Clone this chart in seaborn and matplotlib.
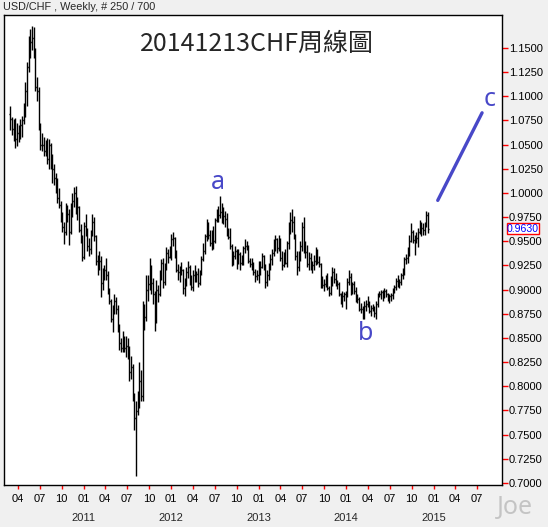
"""USD/CHF weekly bar chart with a-b-c wave marks."""

import matplotlib
matplotlib.use("Agg")

import matplotlib.dates as mdates
import matplotlib.pyplot as plt
import numpy as np
import pandas as pd
import seaborn as sns
from matplotlib.ticker import FormatStrFormatter

# weekly bars, one per week starting 2010-03-01 (250 bars, last = week of 2014-12-08)
week_start = "2010-03-01"

opens = [
    # 2010
    1.0820, 1.0770, 1.0660, 1.0700, 1.0560, 1.0620, 1.0650, 1.0700, 1.0750,
    1.0800, 1.1050, 1.1300, 1.1450, 1.1560, 1.1600, 1.1470, 1.1100, 1.1050,
    1.0700, 1.0500, 1.0500, 1.0430, 1.0420, 1.0350, 1.0500, 1.0300, 1.0250,
    1.0150, 1.0120, 0.9950, 0.9880, 0.9780, 0.9650, 0.9600, 0.9800,
    0.9780, 0.9600, 0.9850, 0.9920, 1.0000, 0.9820, 0.9850, 0.9620, 0.9550,
    # 2011
    0.9340, 0.9660, 0.9600, 0.9450, 0.9420, 0.9580, 0.9700, 0.9550, 0.9300,
    0.9250, 0.9300, 0.9070, 0.9150, 0.9200, 0.9150, 0.8990, 0.8880,
    0.8700, 0.8800, 0.8880, 0.8800, 0.8600, 0.8450, 0.8400, 0.8500, 0.8400,
    0.8420, 0.8400, 0.8150, 0.8200, 0.7870, 0.7670, 0.7740, 0.7880, 0.8050,
    0.7900, 0.8610, 0.8720, 0.9000, 0.9060, 0.9230, 0.9070, 0.8950, 0.8700,
    0.9000, 0.8950, 0.9150, 0.9280, 0.9080, 0.9220, 0.9380, 0.9340,
    # 2012
    0.9390, 0.9520, 0.9530, 0.9370, 0.9200, 0.9180, 0.9170, 0.9200, 0.9020,
    0.9080, 0.9180, 0.9230, 0.9120, 0.9030, 0.9150, 0.9130, 0.9160, 0.9070,
    0.9180, 0.9320, 0.9400, 0.9550, 0.9690, 0.9560, 0.9480, 0.9590,
    0.9500, 0.9720, 0.9780, 0.9770, 0.9800, 0.9720, 0.9760, 0.9730, 0.9600,
    0.9540, 0.9450, 0.9280, 0.9350, 0.9400, 0.9300, 0.9370, 0.9280, 0.9330,
    0.9430, 0.9450, 0.9440, 0.9300, 0.9260, 0.9250, 0.9180, 0.9140, 0.9150,
    # 2013
    0.9260, 0.9230, 0.9350, 0.9250, 0.9080, 0.9150, 0.9220, 0.9320,
    0.9380, 0.9500, 0.9520, 0.9430, 0.9490, 0.9330, 0.9250, 0.9370, 0.9280,
    0.9480, 0.9650, 0.9720, 0.9700, 0.9550, 0.9350, 0.9230, 0.9350,
    0.9450, 0.9650, 0.9440, 0.9390, 0.9270, 0.9330, 0.9240, 0.9250, 0.9300,
    0.9330, 0.9290, 0.9260, 0.9070, 0.9050, 0.9060, 0.9100, 0.9020, 0.8960,
    0.9120, 0.9180, 0.9110, 0.9070, 0.9060, 0.8950, 0.8910, 0.8930, 0.8950,
    # 2014
    0.8950, 0.9080, 0.9130, 0.8990, 0.9060, 0.8990, 0.8900, 0.8900,
    0.8800, 0.8800, 0.8720, 0.8830, 0.8850, 0.8860, 0.8780, 0.8810, 0.8800,
    0.8760, 0.8850, 0.8940, 0.8950, 0.8980, 0.8940, 0.8990, 0.8950, 0.8900,
    0.8930, 0.8940, 0.8990, 0.9030, 0.9090, 0.9060, 0.9080, 0.9150,
    0.9170, 0.9320, 0.9330, 0.9360, 0.9500, 0.9600, 0.9510, 0.9520, 0.9530,
    0.9600, 0.9660, 0.9640, 0.9620, 0.9670, 0.9770,
]

highs = [
    # 2010
    1.0900, 1.0790, 1.0760, 1.0780, 1.0720, 1.0700, 1.0760, 1.0800, 1.0930,
    1.1150, 1.1350, 1.1620, 1.1700, 1.1731, 1.1720, 1.1500, 1.1200, 1.1100,
    1.0720, 1.0620, 1.0580, 1.0550, 1.0570, 1.0560, 1.0520, 1.0400, 1.0300,
    1.0210, 1.0150, 1.0050, 0.9920, 0.9800, 0.9700, 0.9900, 0.9880,
    0.9830, 0.9900, 1.0000, 1.0060, 1.0070, 0.9960, 0.9870, 0.9680, 0.9570,
    # 2011
    0.9700, 0.9780, 0.9640, 0.9530, 0.9620, 0.9780, 0.9750, 0.9560, 0.9360,
    0.9400, 0.9350, 0.9220, 0.9250, 0.9330, 0.9190, 0.9020, 0.8900,
    0.8840, 0.8950, 0.8920, 0.8840, 0.8640, 0.8500, 0.8570, 0.8520, 0.8520,
    0.8500, 0.8420, 0.8310, 0.8230, 0.7930, 0.7850, 0.7950, 0.8250, 0.8170,
    0.8880, 0.8850, 0.9150, 0.9150, 0.9330, 0.9250, 0.9120, 0.8990, 0.9100,
    0.9050, 0.9200, 0.9320, 0.9330, 0.9280, 0.9440, 0.9420, 0.9450,
    # 2012
    0.9580, 0.9600, 0.9540, 0.9410, 0.9260, 0.9240, 0.9290, 0.9210, 0.9120,
    0.9230, 0.9300, 0.9250, 0.9150, 0.9200, 0.9250, 0.9190, 0.9220, 0.9200,
    0.9350, 0.9480, 0.9580, 0.9728, 0.9700, 0.9620, 0.9620, 0.9660,
    0.9740, 0.9830, 0.9870, 0.9972, 0.9900, 0.9850, 0.9810, 0.9790, 0.9640,
    0.9640, 0.9470, 0.9400, 0.9450, 0.9420, 0.9420, 0.9390, 0.9360, 0.9450,
    0.9520, 0.9500, 0.9460, 0.9330, 0.9330, 0.9290, 0.9210, 0.9200, 0.9300,
    # 2013
    0.9300, 0.9380, 0.9360, 0.9260, 0.9200, 0.9280, 0.9370, 0.9420,
    0.9520, 0.9560, 0.9530, 0.9560, 0.9530, 0.9400, 0.9390, 0.9420, 0.9500,
    0.9700, 0.9800, 0.9839, 0.9760, 0.9580, 0.9400, 0.9400, 0.9500,
    0.9700, 0.9752, 0.9500, 0.9460, 0.9390, 0.9380, 0.9300, 0.9360, 0.9440,
    0.9420, 0.9350, 0.9280, 0.9140, 0.9110, 0.9150, 0.9170, 0.9040, 0.9140,
    0.9230, 0.9220, 0.9170, 0.9100, 0.9080, 0.8970, 0.8990, 0.8980, 0.8990,
    # 2014
    0.9120, 0.9200, 0.9170, 0.9080, 0.9090, 0.9030, 0.8950, 0.8920,
    0.8860, 0.8830, 0.8880, 0.8890, 0.8930, 0.8880, 0.8840, 0.8850, 0.8830,
    0.8880, 0.8960, 0.8990, 0.9000, 0.9000, 0.9020, 0.9010, 0.8970, 0.8950,
    0.8970, 0.9020, 0.9050, 0.9120, 0.9150, 0.9110, 0.9170, 0.9220,
    0.9340, 0.9370, 0.9440, 0.9560, 0.9690, 0.9620, 0.9560, 0.9600, 0.9640,
    0.9720, 0.9700, 0.9690, 0.9700, 0.9810, 0.9800,
]

lows = [
    # 2010
    1.0650, 1.0600, 1.0540, 1.0470, 1.0490, 1.0530, 1.0560, 1.0580, 1.0710,
    1.0790, 1.0900, 1.1250, 1.1400, 1.1480, 1.1400, 1.1050, 1.0950, 1.0650,
    1.0440, 1.0430, 1.0380, 1.0380, 1.0300, 1.0250, 1.0250, 1.0100, 1.0080,
    1.0000, 0.9900, 0.9840, 0.9700, 0.9600, 0.9470, 0.9560, 0.9700,
    0.9460, 0.9580, 0.9750, 0.9850, 0.9780, 0.9720, 0.9600, 0.9480, 0.9300,
    # 2011
    0.9320, 0.9550, 0.9400, 0.9350, 0.9370, 0.9550, 0.9500, 0.9250, 0.9150,
    0.9200, 0.8920, 0.9000, 0.9100, 0.9100, 0.8950, 0.8850, 0.8660,
    0.8560, 0.8750, 0.8750, 0.8560, 0.8380, 0.8350, 0.8350, 0.8350, 0.8300,
    0.8280, 0.8050, 0.8080, 0.7850, 0.7550, 0.7067, 0.7700, 0.7780, 0.7850,
    0.7850, 0.8580, 0.8680, 0.8880, 0.9000, 0.8950, 0.8850, 0.8570, 0.8650,
    0.8870, 0.8930, 0.9100, 0.9020, 0.9050, 0.9200, 0.9280, 0.9330,
    # 2012
    0.9310, 0.9450, 0.9330, 0.9180, 0.9100, 0.9080, 0.9150, 0.8950, 0.8930,
    0.9040, 0.9120, 0.9050, 0.9000, 0.8990, 0.9080, 0.9080, 0.9030, 0.9050,
    0.9150, 0.9300, 0.9370, 0.9500, 0.9520, 0.9450, 0.9410, 0.9420,
    0.9480, 0.9700, 0.9700, 0.9740, 0.9690, 0.9680, 0.9650, 0.9550, 0.9520,
    0.9420, 0.9240, 0.9250, 0.9320, 0.9210, 0.9260, 0.9200, 0.9250, 0.9250,
    0.9380, 0.9410, 0.9280, 0.9230, 0.9200, 0.9150, 0.9080, 0.9100, 0.9070,
    # 2013
    0.9150, 0.9220, 0.9200, 0.9020, 0.9040, 0.9100, 0.9200, 0.9250,
    0.9350, 0.9400, 0.9380, 0.9400, 0.9300, 0.9200, 0.9230, 0.9260, 0.9230,
    0.9420, 0.9580, 0.9600, 0.9520, 0.9310, 0.9150, 0.9190, 0.9300,
    0.9400, 0.9380, 0.9330, 0.9230, 0.9200, 0.9200, 0.9170, 0.9200, 0.9250,
    0.9270, 0.9230, 0.9020, 0.9020, 0.8990, 0.9030, 0.9000, 0.8930, 0.8940,
    0.9040, 0.9070, 0.9040, 0.9010, 0.8930, 0.8850, 0.8820, 0.8880, 0.8800,
    # 2014
    0.8920, 0.9050, 0.8940, 0.8950, 0.8950, 0.8870, 0.8860, 0.8780,
    0.8760, 0.8700, 0.8699, 0.8780, 0.8820, 0.8760, 0.8730, 0.8780, 0.8720,
    0.8700, 0.8820, 0.8920, 0.8900, 0.8880, 0.8910, 0.8920, 0.8880, 0.8860,
    0.8880, 0.8900, 0.8960, 0.9000, 0.9030, 0.9020, 0.9050, 0.9110,
    0.9150, 0.9260, 0.9280, 0.9350, 0.9490, 0.9480, 0.9360, 0.9480, 0.9440,
    0.9580, 0.9550, 0.9570, 0.9570, 0.9650, 0.9590,
]

closes = [
    # 2010
    1.0770, 1.0660, 1.0700, 1.0560, 1.0620, 1.0650, 1.0700, 1.0750, 1.0800,
    1.1050, 1.1300, 1.1450, 1.1560, 1.1600, 1.1470, 1.1100, 1.1050, 1.0700,
    1.0500, 1.0500, 1.0430, 1.0420, 1.0350, 1.0500, 1.0300, 1.0250, 1.0150,
    1.0120, 0.9950, 0.9880, 0.9780, 0.9650, 0.9600, 0.9800, 0.9780,
    0.9600, 0.9850, 0.9920, 1.0000, 0.9820, 0.9850, 0.9620, 0.9550, 0.9340,
    # 2011
    0.9660, 0.9600, 0.9450, 0.9420, 0.9580, 0.9700, 0.9550, 0.9300, 0.9250,
    0.9300, 0.9070, 0.9150, 0.9200, 0.9150, 0.8990, 0.8880, 0.8700,
    0.8800, 0.8880, 0.8800, 0.8600, 0.8450, 0.8400, 0.8500, 0.8400, 0.8420,
    0.8400, 0.8150, 0.8200, 0.7870, 0.7670, 0.7740, 0.7880, 0.8050, 0.7900,
    0.8610, 0.8720, 0.9000, 0.9060, 0.9230, 0.9070, 0.8950, 0.8700, 0.9000,
    0.8950, 0.9150, 0.9280, 0.9080, 0.9220, 0.9380, 0.9340, 0.9390,
    # 2012
    0.9520, 0.9530, 0.9370, 0.9200, 0.9180, 0.9170, 0.9200, 0.9020, 0.9080,
    0.9180, 0.9230, 0.9120, 0.9030, 0.9150, 0.9130, 0.9160, 0.9070, 0.9180,
    0.9320, 0.9400, 0.9550, 0.9690, 0.9560, 0.9480, 0.9590, 0.9500,
    0.9720, 0.9780, 0.9770, 0.9800, 0.9720, 0.9760, 0.9730, 0.9600, 0.9540,
    0.9450, 0.9280, 0.9350, 0.9400, 0.9300, 0.9370, 0.9280, 0.9330, 0.9430,
    0.9450, 0.9440, 0.9300, 0.9260, 0.9250, 0.9180, 0.9140, 0.9150, 0.9260,
    # 2013
    0.9230, 0.9350, 0.9250, 0.9080, 0.9150, 0.9220, 0.9320, 0.9380,
    0.9500, 0.9520, 0.9430, 0.9490, 0.9330, 0.9250, 0.9370, 0.9280, 0.9480,
    0.9650, 0.9720, 0.9700, 0.9550, 0.9350, 0.9230, 0.9350, 0.9450,
    0.9650, 0.9440, 0.9390, 0.9270, 0.9330, 0.9240, 0.9250, 0.9300, 0.9330,
    0.9290, 0.9260, 0.9070, 0.9050, 0.9060, 0.9100, 0.9020, 0.8960, 0.9120,
    0.9180, 0.9110, 0.9070, 0.9060, 0.8950, 0.8910, 0.8930, 0.8950, 0.8950,
    # 2014
    0.9080, 0.9130, 0.8990, 0.9060, 0.8990, 0.8900, 0.8900, 0.8800,
    0.8800, 0.8720, 0.8830, 0.8850, 0.8860, 0.8780, 0.8810, 0.8800, 0.8760,
    0.8850, 0.8940, 0.8950, 0.8980, 0.8940, 0.8990, 0.8950, 0.8900, 0.8930,
    0.8940, 0.8990, 0.9030, 0.9090, 0.9060, 0.9080, 0.9150, 0.9170,
    0.9320, 0.9330, 0.9360, 0.9500, 0.9600, 0.9510, 0.9520, 0.9530, 0.9600,
    0.9660, 0.9640, 0.9620, 0.9670, 0.9770, 0.9630,
]

# projected wave c and the a / b / c marks
wave_dates = ["2015-01-18", "2015-07-22"]
wave_values = [0.9923, 1.0829]
mark_labels = ["a", "b", "c"]
mark_dates = ["2012-07-15", "2014-03-21", "2015-08-24"]
mark_values = [1.0043, 0.8483, 1.0901]

title = "20141213CHF周線圖"
header = "USD/CHF , Weekly, # 250 / 700"
month_ticks = pd.date_range("2010-04-01", "2015-07-01", freq="QS-JAN")
year_labels = [2011, 2012, 2013, 2014, 2015]
price_ticks = np.arange(0.70, 1.1501, 0.025)

sns.set_theme(style="white")
plt.rcParams["font.family"] = ["Liberation Sans", "DejaVu Sans"]

wave_color = "#4848c8"
label_size = 8.0
fig = plt.figure(figsize=(5.48, 5.27), dpi=100, facecolor="#f0f0f0")
ax = fig.add_axes([0.00785, 0.0788, 0.9077, 0.8928])
ax.set_facecolor("white")

dates = pd.date_range(week_start, periods=len(closes), freq="7D")
half = pd.Timedelta(days=3.5)
ax.vlines(dates, lows, highs, color="black", linewidth=1.0)
ax.hlines(opens, dates - half, dates, color="black", linewidth=1.0)
ax.hlines(closes, dates, dates + half, color="black", linewidth=1.0)

sns.lineplot(x=pd.to_datetime(wave_dates), y=wave_values, color=wave_color,
             linewidth=2.4, ax=ax)
for label, day, value in zip(mark_labels, mark_dates, mark_values):
    ax.text(pd.Timestamp(day), value, label, color=wave_color, fontsize=18,
            ha="center", va="baseline", family=["Noto Sans", "DejaVu Sans"])

ax.set_xlim(pd.Timestamp("2010-02-04"), pd.Timestamp("2015-10-12"))
ax.set_ylim(0.6974, 1.1841)

for side in ["left", "right", "top", "bottom"]:
    ax.spines[side].set_visible(True)
    ax.spines[side].set_color("black")
    ax.spines[side].set_linewidth(1.0)

ax.set_xticks(month_ticks)
ax.xaxis.set_major_formatter(mdates.DateFormatter("%m"))
ax.tick_params(axis="x", bottom=True, color="red", labelcolor="black",
               length=3, width=1, direction="out", pad=3.4, labelsize=label_size)

ax.yaxis.tick_right()
ax.set_yticks(price_ticks)
ax.yaxis.set_major_formatter(FormatStrFormatter("%.4f"))
ax.tick_params(axis="y", right=True, left=False, color="red", labelcolor="black",
               length=4, width=1, direction="out", pad=1, labelsize=label_size)
ax.set_xlabel("")
ax.set_ylabel("")

for year in year_labels:
    ax.annotate(str(year), xy=(mdates.date2num(pd.Timestamp(f"{year}-01-01")), 0),
                xycoords=("data", "axes fraction"), xytext=(0, -23.5),
                textcoords="offset points", ha="center", va="center", fontsize=label_size)

ax.annotate(f"{closes[-1]:.4f}", xy=(1.0, closes[-1]), xycoords=("axes fraction", "data"),
            xytext=(3.8, 0), textcoords="offset points", ha="left", va="center",
            fontsize=7.6, color="#0000ff",
            bbox={"boxstyle": "square,pad=0.03", "facecolor": "white",
                  "edgecolor": "red", "linewidth": 1.0})

fig.text(256.5 / 548, 1 - 51 / 527, title, fontsize=18, ha="center", va="baseline",
         family=["Noto Sans CJK TC", "DejaVu Sans"])
fig.text(3 / 548, 1 - 7 / 527, header, fontsize=7.8, ha="left", va="center")
fig.text(515 / 548, 1 - 514 / 527, "Joe", fontsize=18, color="#c4c4c4",
         ha="center", va="baseline", family=["Noto Sans", "DejaVu Sans"])

fig.savefig("out.png", dpi=100, facecolor=fig.get_facecolor())
plt.close(fig)
